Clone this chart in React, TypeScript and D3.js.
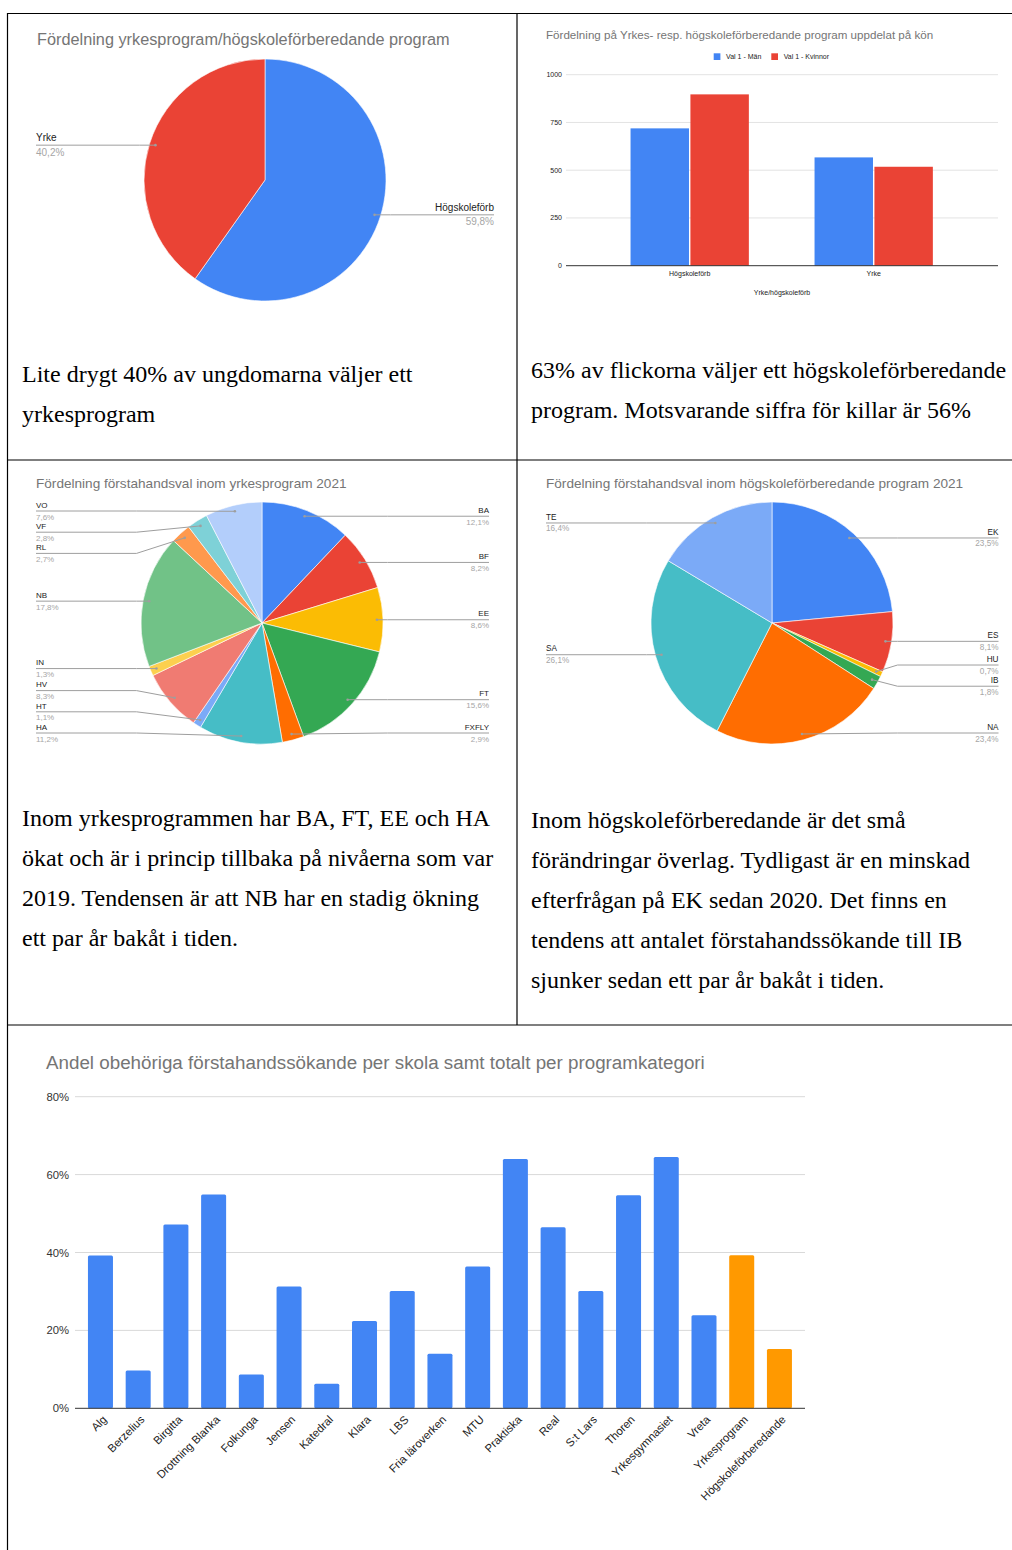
import React from 'react';
import * as d3 from 'd3';

// ---------------- data ----------------
const splitLabels = ['Högskoleförb', 'Yrke'];
const splitValues = [59.8, 40.2];
const splitColors = ['#4285F4', '#EA4335'];

const genderCategories = ['Högskoleförb', 'Yrke'];
const genderSeries = ['Val 1 - Män', 'Val 1 - Kvinnor'];
const menValues = [719, 567];
const womenValues = [897, 518];
const genderTicks = [0, 250, 500, 750, 1000];
const genderColors = ['#4285F4', '#EA4335'];

const yrkeLabels = ['BA', 'BF', 'EE', 'FT', 'FXFLY', 'HA', 'HT', 'HV', 'IN', 'NB', 'RL', 'VF', 'VO'];
const yrkeValues = [12.1, 8.2, 8.6, 15.6, 2.9, 11.2, 1.1, 8.3, 1.3, 17.8, 2.7, 2.8, 7.6];
const yrkeColors = ['#4285F4', '#EA4335', '#FBBC04', '#34A853', '#FF6D01', '#46BDC6', '#7BAAF7', '#F07B72', '#FCD04F', '#71C287', '#FF994D', '#7ED1D7', '#B3CEFB'];

const hogLabels = ['EK', 'ES', 'HU', 'IB', 'NA', 'SA', 'TE'];
const hogValues = [23.5, 8.1, 0.7, 1.8, 23.4, 26.1, 16.4];
const hogColors = ['#4285F4', '#EA4335', '#FBBC04', '#34A853', '#FF6D01', '#46BDC6', '#7BAAF7'];

const schoolLabels = ['Alg', 'Berzelius', 'Birgitta', 'Drottning Blanka', 'Folkunga', 'Jensen', 'Katedral', 'Klara', 'LBS', 'Fria läroverken', 'MTU', 'Praktiska', 'Real', 'S:t Lars', 'Thoren', 'Yrkesgymnasiet', 'Vreta', 'Yrkesprogram', 'Högskoleförberedande'];
const schoolValues = [39.2, 9.7, 47.2, 54.9, 8.7, 31.3, 6.3, 22.4, 30.1, 14.0, 36.4, 64.0, 46.5, 30.1, 54.7, 64.5, 23.9, 39.3, 15.2];
const schoolIsTotal = [false, false, false, false, false, false, false, false, false, false, false, false, false, false, false, false, false, true, true];
const percentTicks = [0, 20, 40, 60, 80];

const text1 = ['Lite drygt 40% av ungdomarna väljer ett', 'yrkesprogram'];
const text2 = ['63% av flickorna väljer ett högskoleförberedande', 'program. Motsvarande siffra för killar är 56%'];
const text3 = ['Inom yrkesprogrammen har BA, FT, EE och HA', 'ökat och är i princip tillbaka på nivåerna som var', '2019. Tendensen är att NB har en stadig ökning', 'ett par år bakåt i tiden.'];
const text4 = ['Inom högskoleförberedande är det små', 'förändringar överlag. Tydligast är en minskad', 'efterfrågan på EK sedan 2020. Det finns en', 'tendens att antalet förstahandssökande till IB', 'sjunker sedan ett par år bakåt i tiden.'];

// ---------------- helpers ----------------
const SANS = 'Arial, "Liberation Sans", sans-serif';
const SERIF = '"Times New Roman", "Liberation Serif", serif';
const fmtPct = (v: number) => v.toFixed(1).replace('.', ',') + '%';

type Item = { i: number; dotX: number; dotY: number; left: boolean; ly: number };

function layoutSide(items: Item[], spacing: number, minY: number, maxY: number) {
  const sorted = [...items].sort((a, b) => a.dotY - b.dotY);
  const groups = sorted.map((it) => ({ members: [it], top: 0 }));
  const place = (g: { members: Item[]; top: number }) => {
    const n = g.members.length;
    const mean = d3.mean(g.members, (m) => m.dotY) as number;
    let top = mean - ((n - 1) * spacing) / 2;
    top = Math.min(top, maxY - (n - 1) * spacing);
    top = Math.max(top, minY);
    g.top = top;
  };
  groups.forEach(place);
  let merged = true;
  while (merged) {
    merged = false;
    for (let k = 0; k < groups.length - 1; k++) {
      const a = groups[k];
      const b = groups[k + 1];
      const aEnd = a.top + (a.members.length - 1) * spacing;
      if (b.top - aEnd < spacing - 0.001) {
        a.members = a.members.concat(b.members);
        groups.splice(k + 1, 1);
        place(a);
        merged = true;
        break;
      }
    }
  }
  groups.forEach((g) => g.members.forEach((m, j) => { m.ly = g.top + j * spacing; }));
}

type PieProps = {
  cx: number; cy: number; r: number; labels: string[]; values: number[]; colors: string[];
  leftX: number; rightX: number; font: number; nameDy: number; pctDy: number;
};

function Pie({ cx, cy, r, labels, values, colors, leftX, rightX, font, nameDy, pctDy }: PieProps) {
  const arcs = d3.pie<number>().sort(null).value((d) => d)(values);
  const arcGen = d3.arc<d3.PieArcDatum<number>>().innerRadius(0).outerRadius(r);
  const items: Item[] = arcs.map((a, i) => {
    const mid = (a.startAngle + a.endAngle) / 2;
    const dotX = cx + Math.sin(mid) * r * 0.95;
    const dotY = cy - Math.cos(mid) * r * 0.95;
    return { i, dotX, dotY, left: Math.sin(mid) < 0, ly: dotY };
  });
  const spacing = 21.2;
  layoutSide(items.filter((d) => d.left), spacing, cy - r + 9, cy + r - 11);
  layoutSide(items.filter((d) => !d.left), spacing, cy - r + 9, cy + r - 11);
  const line = d3.line();
  return (
    <g>
      <g transform={`translate(${cx},${cy})`}>
        {arcs.map((a, i) => (
          <path key={'s' + i} d={arcGen(a) as string} fill={colors[i]} stroke="#fff" strokeWidth={0.6} />
        ))}
      </g>
      {items.map((it) => {
        const x = it.left ? leftX : rightX;
        const bend = it.left ? cx - r - 4.5 : cx + r + 4.5;
        const pts: [number, number][] = [[x, it.ly], [bend, it.ly], [it.dotX, it.dotY]];
        const anchor = it.left ? 'start' : 'end';
        return (
          <g key={'l' + it.i}>
            <path d={line(pts) as string} fill="none" stroke="#9e9e9e" strokeWidth={1} />
            <circle cx={it.dotX} cy={it.dotY} r={1.3} fill="#9e9e9e" />
            <text x={x} y={it.ly - nameDy} textAnchor={anchor} fontSize={font} fill="#222" fontFamily={SANS}>{labels[it.i]}</text>
            <text x={x} y={it.ly + pctDy} textAnchor={anchor} fontSize={font} fill="#a6a6a6" fontFamily={SANS}>{fmtPct(values[it.i])}</text>
          </g>
        );
      })}
    </g>
  );
}

function Paragraph({ x, y, lines }: { x: number; y: number; lines: string[] }) {
  return (
    <g>
      {lines.map((t, i) => (
        <text key={i} x={x} y={y + i * 40} fontSize={24} fontFamily={SERIF} fill="#000">{t}</text>
      ))}
    </g>
  );
}

function GenderChart() {
  const y = d3.scaleLinear().domain([0, 1000]).range([265.7, 74.7]);
  const x0 = d3.scaleBand<string>().domain(genderCategories).range([597.7, 965.7]).paddingInner(0.357).paddingOuter(0.1785);
  const x1 = d3.scaleBand<string>().domain(genderSeries).range([0, x0.bandwidth()]).paddingInner(0.024);
  const seriesValues = [menValues, womenValues];
  return (
    <g fontFamily={SANS}>
      <text x={546} y={39} fontSize={11.6} fill="#757575">Fördelning på Yrkes- resp. högskoleförberedande program uppdelat på kön</text>
      <rect x={713.7} y={53.3} width={6.7} height={6.7} fill={genderColors[0]} />
      <text x={726} y={59.2} fontSize={7} fill="#222">{genderSeries[0]}</text>
      <rect x={771.3} y={53.3} width={6.7} height={6.7} fill={genderColors[1]} />
      <text x={783.7} y={59.2} fontSize={7} fill="#222">{genderSeries[1]}</text>
      {genderTicks.map((t) => (
        <g key={t}>
          {t !== 0 && <line x1={566} x2={998} y1={y(t)} y2={y(t)} stroke="#e3e3e3" strokeWidth={1} />}
          <text x={562} y={y(t) + 2.5} textAnchor="end" fontSize={7} fill="#222">{t}</text>
        </g>
      ))}
      {genderCategories.map((c, ci) => (
        <g key={c}>
          {genderSeries.map((s, si) => (
            <rect key={s} x={(x0(c) as number) + (x1(s) as number)} y={y(seriesValues[si][ci])} width={x1.bandwidth()} height={y(0) - y(seriesValues[si][ci])} fill={genderColors[si]} />
          ))}
          <text x={(x0(c) as number) + x0.bandwidth() / 2} y={276} textAnchor="middle" fontSize={7} fill="#222">{c}</text>
        </g>
      ))}
      <line x1={566} x2={998} y1={y(0)} y2={y(0)} stroke="#333" strokeWidth={1} />
      <text x={782} y={295} textAnchor="middle" fontSize={7} fill="#222">Yrke/högskoleförb</text>
    </g>
  );
}

function SchoolChart() {
  const y = d3.scaleLinear().domain([0, 80]).range([1408.3, 1096.7]);
  const x = d3.scaleBand<string>().domain(schoolLabels).range([81.6, 798.3]).paddingInner(0.337).paddingOuter(0.1685);
  return (
    <g fontFamily={SANS}>
      <text x={46} y={1069} fontSize={18.8} fill="#757575">Andel obehöriga förstahandssökande per skola samt totalt per programkategori</text>
      {percentTicks.map((t) => (
        <g key={t}>
          {t !== 0 && <line x1={75} x2={805} y1={y(t)} y2={y(t)} stroke="#d9d9d9" strokeWidth={1} />}
          <text x={69} y={y(t) + 4} textAnchor="end" fontSize={11.3} fill="#333">{t + '%'}</text>
        </g>
      ))}
      {schoolLabels.map((s, i) => {
        const bx = x(s) as number;
        const cx = bx + x.bandwidth() / 2;
        return (
          <g key={s}>
            <rect x={bx} y={y(schoolValues[i])} width={x.bandwidth()} height={y(0) - y(schoolValues[i])} rx={1.5} fill={schoolIsTotal[i] ? '#FF9900' : '#4285F4'} />
            <text transform={`translate(${cx + 7},${y(0) + 12}) rotate(-45)`} textAnchor="end" fontSize={11.3} fill="#222">{s}</text>
          </g>
        );
      })}
      <line x1={75} x2={805} y1={y(0)} y2={y(0)} stroke="#333" strokeWidth={1} />
    </g>
  );
}

export default function App() {
  return (
    <svg width={1012} height={1550} style={{ position: 'absolute', left: 0, top: 0, background: '#fff' }}>
      <rect x={0} y={0} width={1012} height={1550} fill="#fff" />
      <line x1={7} x2={1012} y1={13.5} y2={13.5} stroke="#000" strokeWidth={1.2} />
      <line x1={7.5} x2={7.5} y1={13} y2={1550} stroke="#000" strokeWidth={1.2} />
      <line x1={517} x2={517} y1={13} y2={1025} stroke="#000" strokeWidth={1.2} />
      <line x1={7} x2={1012} y1={460} y2={460} stroke="#000" strokeWidth={1.2} />
      <line x1={7} x2={1012} y1={1025} y2={1025} stroke="#000" strokeWidth={1.2} />

      <text x={37} y={45} fontSize={16.3} fill="#757575" fontFamily={SANS}>Fördelning yrkesprogram/högskoleförberedande program</text>
      <Pie cx={265} cy={180} r={121} labels={splitLabels} values={splitValues} colors={splitColors} leftX={36} rightX={494} font={10} nameDy={4} pctDy={10.6} />
      <Paragraph x={22} y={382} lines={text1} />

      <GenderChart />
      <Paragraph x={531} y={378} lines={text2} />

      <text x={36} y={488} fontSize={13.6} fill="#757575" fontFamily={SANS}>Fördelning förstahandsval inom yrkesprogram 2021</text>
      <Pie cx={262} cy={623} r={121} labels={yrkeLabels} values={yrkeValues} colors={yrkeColors} leftX={36} rightX={489} font={8} nameDy={3.3} pctDy={8.5} />
      <Paragraph x={22} y={826} lines={text3} />

      <text x={546} y={488} fontSize={13.6} fill="#757575" fontFamily={SANS}>Fördelning förstahandsval inom högskoleförberedande program 2021</text>
      <Pie cx={772} cy={623} r={121} labels={hogLabels} values={hogValues} colors={hogColors} leftX={546} rightX={998.5} font={8.2} nameDy={3.3} pctDy={8.5} />
      <Paragraph x={531} y={828} lines={text4} />

      <SchoolChart />
    </svg>
  );
}
